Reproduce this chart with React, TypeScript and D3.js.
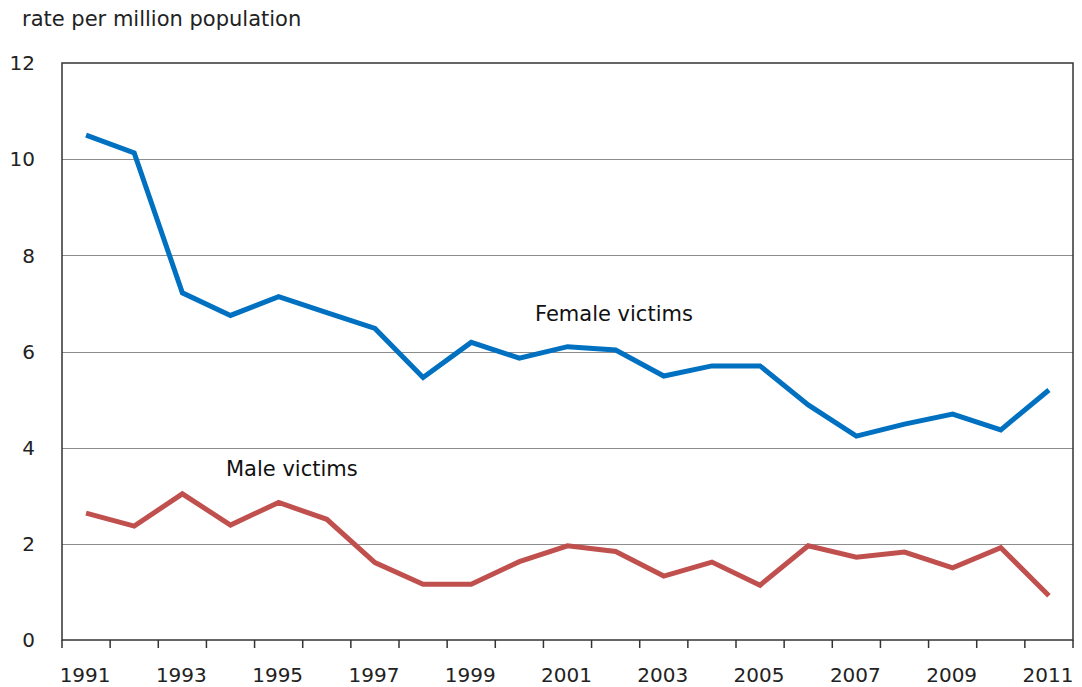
import { useEffect, useRef } from 'react';
import * as d3 from 'd3';

const years = [
    '1991', '1992', '1993', '1994', '1995', '1996', '1997', '1998', '1999', '2000', '2001',
    '2002', '2003', '2004', '2005', '2006', '2007', '2008', '2009', '2010', '2011',
];
const femaleRates = [
    10.5, 10.13, 7.22, 6.75, 7.14, 6.81, 6.48, 5.46, 6.19, 5.86, 6.1,
    6.03, 5.49, 5.7, 5.7, 4.89, 4.24, 4.49, 4.7, 4.37, 5.2,
];
const maleRates = [
    2.64, 2.37, 3.04, 2.39, 2.86, 2.51, 1.61, 1.16, 1.16, 1.63, 1.96,
    1.84, 1.33, 1.62, 1.14, 1.96, 1.72, 1.83, 1.5, 1.92, 0.92,
];
const yTicks = [0, 2, 4, 6, 8, 10, 12];
const xLabels = ['1991', '1993', '1995', '1997', '1999', '2001', '2003', '2005', '2007', '2009', '2011'];

const WIDTH = 1082;
const HEIGHT = 687;
const FONT = '"DejaVu Sans", Verdana, sans-serif';

export default function App() {
    const svgRef = useRef<SVGSVGElement>(null);
    const margin = { top: 63, right: 9, bottom: 47, left: 62 };

    useEffect(() => {
        if (!svgRef.current) return;
        const svg = d3.select(svgRef.current);
        svg.selectAll('*').remove();

        const innerWidth = WIDTH - margin.left - margin.right;
        const innerHeight = HEIGHT - margin.top - margin.bottom;

        const x = d3.scaleBand<string>().domain(years).range([0, innerWidth]);
        const y = d3.scaleLinear().domain([0, 12]).range([innerHeight, 0]);

        const g = svg.append('g').attr('transform', `translate(${margin.left},${margin.top})`);

        // gridlines
        g.selectAll('line.grid')
            .data(yTicks.slice(1, -1))
            .enter()
            .append('line')
            .attr('class', 'grid')
            .attr('x1', 0)
            .attr('x2', innerWidth)
            .attr('y1', d => Math.round(y(d)) + 0.5)
            .attr('y2', d => Math.round(y(d)) + 0.5)
            .attr('stroke', '#8c8c8c')
            .attr('stroke-width', 1);

        // y labels
        g.selectAll('text.ylab')
            .data(yTicks)
            .enter()
            .append('text')
            .attr('class', 'ylab')
            .attr('x', -27)
            .attr('y', d => y(d))
            .attr('dy', '0.36em')
            .attr('text-anchor', 'end')
            .attr('font-family', FONT)
            .attr('font-size', 20)
            .attr('fill', '#222')
            .text(d => d);

        // x tick marks at category boundaries
        const bounds = years.map(d => x(d) as number).concat([innerWidth]);
        g.selectAll('line.xtick')
            .data(bounds)
            .enter()
            .append('line')
            .attr('class', 'xtick')
            .attr('x1', d => d)
            .attr('x2', d => d)
            .attr('y1', innerHeight)
            .attr('y2', innerHeight + 8)
            .attr('stroke', '#333')
            .attr('stroke-width', 1.5);

        g.selectAll('text.xlab')
            .data(xLabels)
            .enter()
            .append('text')
            .attr('class', 'xlab')
            .attr('x', d => (x(d) as number) + x.bandwidth() / 2 - 1)
            .attr('y', innerHeight + 42)
            .attr('text-anchor', 'middle')
            .attr('font-family', FONT)
            .attr('font-size', 20)
            .attr('fill', '#222')
            .text(d => d);

        // frame
        g.append('rect')
            .attr('x', 0)
            .attr('y', 0)
            .attr('width', innerWidth)
            .attr('height', innerHeight)
            .attr('fill', 'none')
            .attr('stroke', '#333')
            .attr('stroke-width', 1.5);

        const line = d3.line<number>()
            .x((_, i) => (x(years[i]) as number) + x.bandwidth() / 2)
            .y(d => y(d));

        g.append('path')
            .datum(maleRates)
            .attr('d', line)
            .attr('fill', 'none')
            .attr('stroke', '#c0504d')
            .attr('stroke-width', 5);

        g.append('path')
            .datum(femaleRates)
            .attr('d', line)
            .attr('fill', 'none')
            .attr('stroke', '#0070c0')
            .attr('stroke-width', 5);

        // series labels
        svg.append('text')
            .attr('x', 535)
            .attr('y', 321)
            .attr('font-family', FONT)
            .attr('font-size', 21)
            .attr('fill', '#111')
            .text('Female victims');

        svg.append('text')
            .attr('x', 226)
            .attr('y', 476)
            .attr('font-family', FONT)
            .attr('font-size', 21)
            .attr('fill', '#111')
            .text('Male victims');

        svg.append('text')
            .attr('x', 22)
            .attr('y', 26)
            .attr('font-family', FONT)
            .attr('font-size', 21)
            .attr('fill', '#222')
            .text('rate per million population');
    }, []);

    return (
        <svg
            ref={svgRef}
            width={WIDTH}
            height={HEIGHT}
            viewBox={`0 0 ${WIDTH} ${HEIGHT}`}
            style={{ position: 'absolute', left: 0, top: 0, background: '#fff' }}
        />
    );
}
